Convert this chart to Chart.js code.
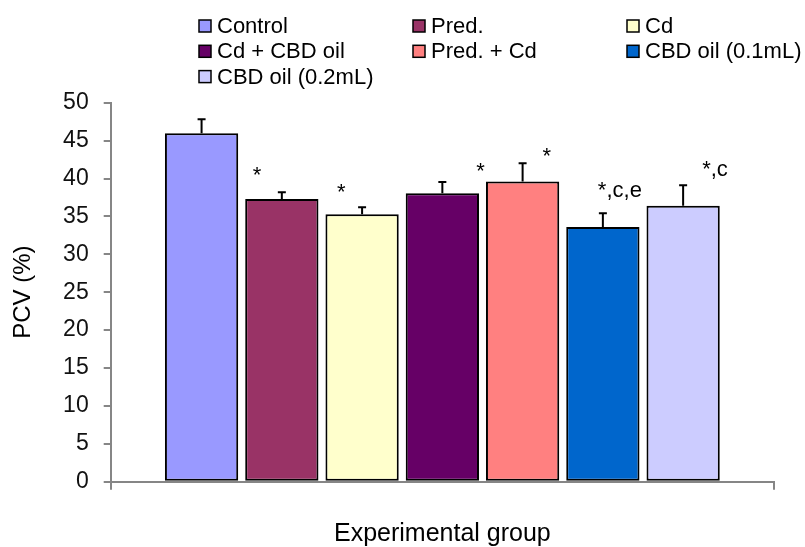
<!DOCTYPE html>
<html>
<head>
<meta charset="utf-8">
<script src="https://cdn.jsdelivr.net/npm/chart.js@4"></script>
<style>
    html, body { margin: 0; padding: 0; background: #fff; }
    #wrap { width: 805px; height: 547px; position: relative; }
</style>
</head>
<body>
<div id="wrap"><canvas id="chart"></canvas></div>
<script>
// values
const groups = ['Control', 'Pred.', 'Cd', 'Cd + CBD oil', 'Pred. + Cd', 'CBD oil (0.1mL)', 'CBD oil (0.2mL)'];
const pcvMeans = [45.96, 37.3, 35.3, 38.05, 39.6, 33.6, 36.4];
const pcvErrors = [1.85, 0.9, 0.9, 1.5, 2.4, 1.8, 2.7];
const marks = ['', '*', '*', '*', '*', '*,c,e', '*,c'];
const yTicks = [0, 5, 10, 15, 20, 25, 30, 35, 40, 45, 50];

const colors = ['#9999FF', '#993366', '#FFFFCC', '#660066', '#FF8080', '#0066CC', '#CCCCFF'];
// label offsets from the bar centre / error bar tip, in px
const markDx = [0, -29, -25, 34, 20, -5, 19];
const markDy = [0, -10, -8, -4, 0, -16, -9];

const FONT = "'Liberation Sans', Arial, sans-serif";
const AXIS_GREY = '#868686';

const errorBars = {
    id: 'errorBars',
    afterDatasetsDraw(chart) {
        const ctx = chart.ctx;
        const y = chart.scales.y;
        ctx.save();
        ctx.strokeStyle = '#000';
        ctx.lineWidth = 2;
        ctx.fillStyle = '#000';
        ctx.font = '22px ' + FONT;
        ctx.textAlign = 'left';
        ctx.textBaseline = 'alphabetic';
        chart.data.datasets.forEach((ds, i) => {
            const bar = chart.getDatasetMeta(i).data[0];
            const tip = y.getPixelForValue(pcvMeans[i] + pcvErrors[i]);
            ctx.beginPath();
            ctx.moveTo(bar.x, bar.y);
            ctx.lineTo(bar.x, tip);
            ctx.moveTo(bar.x - 4, tip);
            ctx.lineTo(bar.x + 4, tip);
            ctx.stroke();
            if (marks[i]) {
                ctx.fillText(marks[i], bar.x + markDx[i], tip + markDy[i]);
            }
        });
        ctx.restore();
    }
};

const gridLegend = {
    id: 'gridLegend',
    afterDraw(chart) {
        const ctx = chart.ctx;
        ctx.save();
        ctx.font = '22px ' + FONT;
        ctx.textBaseline = 'middle';
        ctx.textAlign = 'left';
        chart.data.datasets.forEach((ds, i) => {
            const x = 199 + (i % 3) * 214;
            const yc = 26 + Math.floor(i / 3) * 25.3;
            ctx.fillStyle = ds.backgroundColor;
            ctx.fillRect(x, yc - 6, 12, 12);
            ctx.strokeStyle = '#000';
            ctx.lineWidth = 1.5;
            ctx.strokeRect(x, yc - 6, 12, 12);
            ctx.fillStyle = '#000';
            ctx.fillText(ds.label, x + 18, yc + 1);
        });
        ctx.restore();
    }
};

new Chart(document.getElementById('chart'), {
    type: 'bar',
    plugins: [errorBars, gridLegend],
    data: {
        labels: [''],
        datasets: groups.map((g, i) => ({
            label: g,
            data: [pcvMeans[i]],
            backgroundColor: colors[i],
            borderColor: '#000',
            borderWidth: 2,
            borderSkipped: false,
            categoryPercentage: 0.847,
            barPercentage: 0.913
        }))
    },
    options: {
        responsive: true,
        maintainAspectRatio: false,
        animation: false,
        layout: { padding: { top: 102.7, right: 31, bottom: 0, left: 0 } },
        plugins: {
            legend: { display: false },
            tooltip: { enabled: false }
        },
        scales: {
            x: {
                grid: {
                    offset: true,
                    drawOnChartArea: false,
                    drawTicks: true,
                    tickLength: 8,
                    color: AXIS_GREY,
                    lineWidth: 2
                },
                border: { color: AXIS_GREY, width: 2 },
                ticks: { display: false },
                title: {
                    display: true,
                    text: 'Experimental group',
                    color: '#000',
                    font: { family: FONT, size: 25, lineHeight: 1 },
                    padding: { top: 0, bottom: 0 }
                },
                afterFit(scale) { scale.height = 65.3; }
            },
            y: {
                min: 0,
                max: 50,
                afterBuildTicks(scale) { scale.ticks = yTicks.map(v => ({ value: v })); },
                grid: {
                    drawOnChartArea: false,
                    drawTicks: true,
                    tickLength: 7,
                    color: AXIS_GREY,
                    lineWidth: 2
                },
                border: { color: AXIS_GREY, width: 2 },
                ticks: {
                    color: '#111',
                    padding: 15,
                    font: { family: FONT, size: 23 }
                },
                title: {
                    display: true,
                    text: 'PCV (%)',
                    color: '#000',
                    font: { family: FONT, size: 24, lineHeight: 1 },
                    padding: { top: 11, bottom: 0 }
                },
                afterFit(scale) { scale.width = 110.7; }
            }
        }
    }
});
</script>
</body>
</html>
